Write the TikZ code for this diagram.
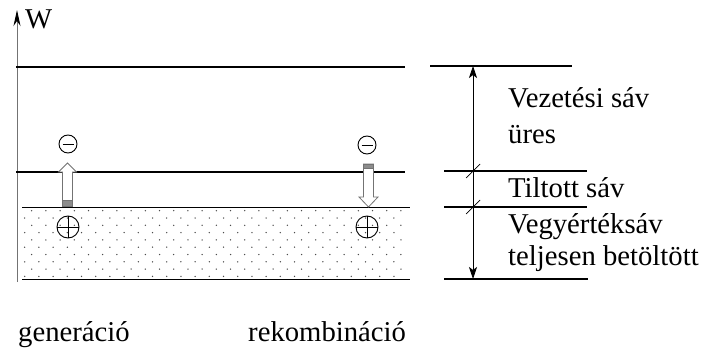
\documentclass[tikz,border=0pt]{standalone}
\usepackage{fontspec}
\setmainfont{Liberation Serif}
\newfontfamily\tmsfont{Liberation Serif}
\usetikzlibrary{arrows.meta}
\begin{document}
\begin{tikzpicture}[x=1pt,y=-1pt,
  lbl/.style={anchor=base west, inner sep=0pt, font=\tmsfont\fontsize{28.7}{34}\selectfont},
  band/.style={line width=1.6pt},
  thinband/.style={line width=1pt},
  scaleline/.style={line width=1.1pt},
  charge/.style={circle, draw, line width=0.9pt, inner sep=0pt},
  blockarrow/.style={draw=black!55, line width=0.8pt, fill=white},
  tailband/.style={fill=black!45, draw=black!55, line width=0.5pt},
  dot/.style={fill=black!70}
]
\useasboundingbox (0,0) rectangle (704,350);

% dotted valence band
\foreach \r in {0,...,9}{
  \foreach \c in {0,...,27}{
    \pgfmathsetmacro{\xx}{31.7-7*mod(\r,2)+14.2*\c}
    \pgfmathsetmacro{\yy}{210.7+7.3*\r}
    \ifdim\xx pt<408pt \fill[dot] (\xx,\yy) circle[radius=0.75];\fi
  }
}

% axis
\coordinate (ax0) at (17,282);
\coordinate (ax1) at (17,10);
\draw[black!55, line width=0.9pt, -{Stealth[length=16pt,width=7pt,inset=5pt,black]}] (ax0) -- (ax1);
\node[lbl] (w) at (25,29) {W};

% band lines
\draw[band] (16,67) -- (405,67);
\draw[band] (16,172) -- (405,172);
\draw[thinband] (22,207) -- (410,207);
\draw[thinband] (22,279) -- (410,279);

% right scale
\coordinate (s0) at (473,66);
\coordinate (s1) at (473,279);
\draw[scaleline] (430,66) -- (572,66);
\draw[scaleline] (444,171) -- (587,171);
\draw[scaleline] (444,207) -- (587,207);
\draw[scaleline] (444,279) -- (588,279);
\draw[line width=0.8pt, {Stealth[length=12pt,width=8pt,inset=3pt]}-{Stealth[length=12pt,width=8pt,inset=3pt]}] (s0) -- (s1);
\draw[line width=0.7pt] (466,178) -- (480,164);
\draw[line width=0.7pt] (466,214) -- (480,200);

% generation arrow
\draw[blockarrow] (62.5,206) -- (62.5,172) -- (58.5,172) -- (67.5,163) -- (76.5,172) -- (72.5,172) -- (72.5,206) -- cycle;
\draw[tailband] (62.5,200.5) rectangle (72.5,206);
% recombination arrow
\draw[blockarrow] (363.5,164) -- (363.5,197) -- (359,197) -- (368.5,207) -- (378,197) -- (373.5,197) -- (373.5,164) -- cycle;
\draw[tailband] (363.5,164) rectangle (373.5,168.5);

% charges
\node[charge, minimum size=18pt,
  path picture={\draw[line width=0.9pt] ([xshift=-5.5pt]path picture bounding box.center) -- ([xshift=5.5pt]path picture bounding box.center);}] (e1) at (68,144) {};
\node[charge, minimum size=18pt,
  path picture={\draw[line width=0.9pt] ([xshift=-5.5pt]path picture bounding box.center) -- ([xshift=5.5pt]path picture bounding box.center);}] (e2) at (367,145) {};
\node[charge, minimum size=22pt,
  path picture={\draw[line width=0.9pt] (path picture bounding box.west) -- (path picture bounding box.east) (path picture bounding box.north) -- (path picture bounding box.south);}] (h1) at (68,227) {};
\node[charge, minimum size=22pt,
  path picture={\draw[line width=0.9pt] (path picture bounding box.west) -- (path picture bounding box.east) (path picture bounding box.north) -- (path picture bounding box.south);}] (h2) at (367,227) {};

% labels
\node[lbl] (t1) at (508,108) {Vezetési sáv};
\node[lbl] (t2) at (508,143) {üres};
\node[lbl] (t3) at (508,197) {Tiltott sáv};
\node[lbl] (t4) at (508,233) {Vegyértéksáv};
\node[lbl] (t5) at (508,265) {teljesen betöltött};
\node[lbl] (g) at (18,341) {generáció};
\node[lbl] (r) at (248,341) {rekombináció};
\end{tikzpicture}
\end{document}
